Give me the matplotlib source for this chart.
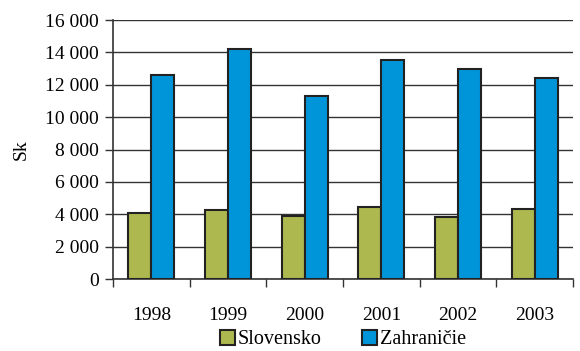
import matplotlib
matplotlib.use('Agg')
import matplotlib.pyplot as plt
import numpy as np

years = ['1998', '1999', '2000', '2001', '2002', '2003']
slovensko = [4050, 4250, 3900, 4480, 3850, 4300]
zahranicie = [12600, 14200, 11300, 13500, 12950, 12400]

plt.rcParams['font.family'] = ['Liberation Serif', 'DejaVu Serif']

fig = plt.figure(figsize=(5.8, 3.51), dpi=100)
ax = fig.add_axes([0.195, 0.205, 0.793, 0.738])

x = np.arange(len(years))
w = 0.3
ax.bar(x - w / 2, slovensko, w, color='#adb94f', edgecolor='#222222', linewidth=1.5,
       label='Slovensko', zorder=3)
ax.bar(x + w / 2, zahranicie, w, color='#0095d9', edgecolor='#222222', linewidth=1.5,
       label='Zahraničie', zorder=3)

ax.set_xlim(-0.5, len(years) - 0.5)
ax.set_ylim(0, 16000)
ax.set_yticks(range(0, 16001, 2000))
ax.set_yticklabels([f'{v:,}'.replace(',', ' ') for v in range(0, 16001, 2000)], fontsize=14)
ax.grid(axis='y', color='#333333', linewidth=1, zorder=0)

# category ticks at boundaries, labels centered
ax.set_xticks(np.arange(-0.5, len(years), 1))
ax.set_xticklabels([])
ax.set_xticks(x, minor=True)
ax.set_xticklabels(years, minor=True, fontsize=14)
ax.tick_params(axis='x', which='major', length=6, width=1, color='#333333')
ax.tick_params(axis='x', which='minor', length=0, pad=20)
ax.tick_params(axis='y', length=6, width=1, color='#333333', pad=4)

for s in ['top', 'right']:
    ax.spines[s].set_visible(False)
ax.spines['left'].set_color('#333333')
ax.spines['bottom'].set_color('#333333')
ax.spines['left'].set_linewidth(1.2)
ax.spines['bottom'].set_linewidth(1.2)

ax.set_ylabel('Sk', fontsize=14, labelpad=11)

ax.legend(loc='upper center', bbox_to_anchor=(0.5, -0.197), ncol=2, frameon=False,
          fontsize=14.5, handlelength=0.75, handleheight=0.75, handletextpad=0.15,
          columnspacing=2.0, borderaxespad=0, borderpad=0)

fig.savefig('out.png', dpi=100)
